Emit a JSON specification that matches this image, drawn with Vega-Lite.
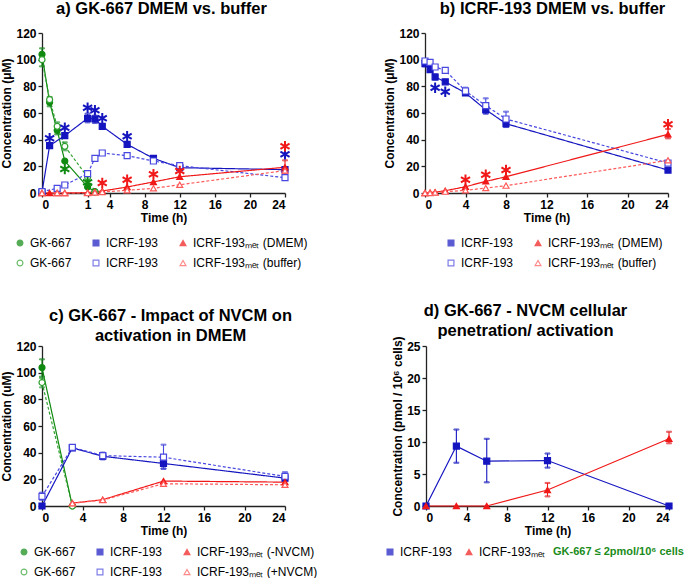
{
  "$schema": "https://vega.github.io/schema/vega-lite/v6.json",
  "background": "white",
  "padding": {"left": 0, "top": 0, "right": 0, "bottom": 0},
  "config": {
    "view": {"stroke": null},
    "font": "Liberation Sans",
    "axis": {"grid": false, "labelFont": "Liberation Sans", "labelFontWeight": "bold", "labelFontSize": 12, "labelColor": "black", "titleFont": "Liberation Sans", "titleFontWeight": "bold", "titleFontSize": 12, "titleColor": "black", "domainColor": "#222", "tickColor": "#222", "domainWidth": 1.3, "tickWidth": 1.3, "tickSize": 4, "labelPadding": 2, "titlePadding": 2},
    "legend": {"labelFont": "Liberation Sans", "labelFontSize": 12, "labelColor": "black", "orient": "none", "direction": "horizontal", "symbolSize": 34, "symbolStrokeWidth": 1.2, "columnPadding": 18, "rowPadding": 8, "padding": 0, "labelOffset": 4},
    "title": {"font": "Liberation Sans", "fontSize": 16.5, "fontWeight": "bold", "color": "black", "lineHeight": 20, "offset": 10, "anchor": "middle"}
  },
  "resolve": {"scale": {"color": "independent", "stroke": "independent", "fill": "independent", "shape": "independent", "strokeDash": "independent"}, "legend": {"color": "independent", "stroke": "independent", "fill": "independent", "shape": "independent", "strokeDash": "independent"}},
  "datasets": {
    "a": [
      {"t": 0, "v": 104, "s": "GK-667 [DMEM]"}, {"t": 0.167, "v": 68, "s": "GK-667 [DMEM]"}, {"t": 0.333, "v": 47, "s": "GK-667 [DMEM]"}, {"t": 0.5, "v": 24, "s": "GK-667 [DMEM]"}, {"t": 1, "v": 4.5, "s": "GK-667 [DMEM]"}, {"t": 2, "v": 1, "s": "GK-667 [DMEM]"},
      {"t": 0, "v": 100, "s": "GK-667 [buffer]"}, {"t": 0.167, "v": 70, "s": "GK-667 [buffer]"}, {"t": 0.333, "v": 50, "s": "GK-667 [buffer]"}, {"t": 0.5, "v": 35, "s": "GK-667 [buffer]"}, {"t": 1, "v": 12, "s": "GK-667 [buffer]"}, {"t": 2, "v": 0.5, "s": "GK-667 [buffer]"},
      {"t": 0, "v": 0.5, "s": "ICRF-193 [DMEM]"}, {"t": 0.167, "v": 35.5, "s": "ICRF-193 [DMEM]"}, {"t": 0.5, "v": 43, "s": "ICRF-193 [DMEM]"}, {"t": 1, "v": 56, "s": "ICRF-193 [DMEM]"}, {"t": 2, "v": 55.5, "s": "ICRF-193 [DMEM]"}, {"t": 3, "v": 50, "s": "ICRF-193 [DMEM]"}, {"t": 6, "v": 36.5, "s": "ICRF-193 [DMEM]"}, {"t": 9, "v": 26, "s": "ICRF-193 [DMEM]"}, {"t": 12, "v": 19, "s": "ICRF-193 [DMEM]"}, {"t": 24, "v": 17.5, "s": "ICRF-193 [DMEM]"},
      {"t": 0, "v": 1, "s": "ICRF-193 [buffer]"}, {"t": 0.333, "v": 3.5, "s": "ICRF-193 [buffer]"}, {"t": 0.5, "v": 6, "s": "ICRF-193 [buffer]"}, {"t": 1, "v": 14.5, "s": "ICRF-193 [buffer]"}, {"t": 2, "v": 26, "s": "ICRF-193 [buffer]"}, {"t": 3, "v": 30, "s": "ICRF-193 [buffer]"}, {"t": 6, "v": 28, "s": "ICRF-193 [buffer]"}, {"t": 9, "v": 24, "s": "ICRF-193 [buffer]"}, {"t": 12, "v": 20.5, "s": "ICRF-193 [buffer]"}, {"t": 24, "v": 11.5, "s": "ICRF-193 [buffer]"},
      {"t": 0, "v": 0, "s": "ICRF-193ₘₑₜ (DMEM)"}, {"t": 0.167, "v": 0, "s": "ICRF-193ₘₑₜ (DMEM)"}, {"t": 0.333, "v": 0, "s": "ICRF-193ₘₑₜ (DMEM)"}, {"t": 0.5, "v": 0, "s": "ICRF-193ₘₑₜ (DMEM)"}, {"t": 1, "v": 0.3, "s": "ICRF-193ₘₑₜ (DMEM)"}, {"t": 2, "v": 0.8, "s": "ICRF-193ₘₑₜ (DMEM)"}, {"t": 3, "v": 1.5, "s": "ICRF-193ₘₑₜ (DMEM)"}, {"t": 6, "v": 4.5, "s": "ICRF-193ₘₑₜ (DMEM)"}, {"t": 9, "v": 8.3, "s": "ICRF-193ₘₑₜ (DMEM)"}, {"t": 12, "v": 12.2, "s": "ICRF-193ₘₑₜ (DMEM)"}, {"t": 24, "v": 19.3, "s": "ICRF-193ₘₑₜ (DMEM)"},
      {"t": 0, "v": 0, "s": "ICRF-193ₘₑₜ (buffer)"}, {"t": 0.333, "v": 0, "s": "ICRF-193ₘₑₜ (buffer)"}, {"t": 0.5, "v": 0, "s": "ICRF-193ₘₑₜ (buffer)"}, {"t": 1, "v": 0, "s": "ICRF-193ₘₑₜ (buffer)"}, {"t": 2, "v": 0.3, "s": "ICRF-193ₘₑₜ (buffer)"}, {"t": 3, "v": 0.8, "s": "ICRF-193ₘₑₜ (buffer)"}, {"t": 6, "v": 2, "s": "ICRF-193ₘₑₜ (buffer)"}, {"t": 9, "v": 3.5, "s": "ICRF-193ₘₑₜ (buffer)"}, {"t": 12, "v": 6.2, "s": "ICRF-193ₘₑₜ (buffer)"}, {"t": 24, "v": 16.8, "s": "ICRF-193ₘₑₜ (buffer)"}
    ],
    "a_err": [
      {"t": 0, "lo": 95, "hi": 108.5, "s": "GK-667 [DMEM]"}, {"t": 0.167, "lo": 65, "hi": 72, "s": "GK-667 [DMEM]"}, {"t": 0.333, "lo": 44, "hi": 51, "s": "GK-667 [DMEM]"}, {"t": 0.333, "lo": 47, "hi": 53, "s": "GK-667 [buffer]"}, {"t": 0.5, "lo": 32, "hi": 38, "s": "GK-667 [buffer]"},
      {"t": 1, "lo": 53, "hi": 59.5, "s": "ICRF-193 [DMEM]"}, {"t": 2, "lo": 52.5, "hi": 58, "s": "ICRF-193 [DMEM]"}, {"t": 24, "lo": 15, "hi": 24.5, "s": "ICRF-193ₘₑₜ (DMEM)"}
    ],
    "a_star": [
      {"t": 0.167, "v": 41, "s": "ICRF-193 [DMEM]"}, {"t": 0.5, "v": 49, "s": "ICRF-193 [DMEM]"}, {"t": 1, "v": 64, "s": "ICRF-193 [DMEM]"}, {"t": 2, "v": 62, "s": "ICRF-193 [DMEM]"}, {"t": 3, "v": 56, "s": "ICRF-193 [DMEM]"}, {"t": 6, "v": 42.5, "s": "ICRF-193 [DMEM]"}, {"t": 24, "v": 29, "s": "ICRF-193 [DMEM]"},
      {"t": 0.5, "v": 18, "s": "GK-667 [DMEM]"}, {"t": 1, "v": 8, "s": "GK-667 [DMEM]"},
      {"t": 3, "v": 7.5, "s": "ICRF-193ₘₑₜ (DMEM)"}, {"t": 6, "v": 10, "s": "ICRF-193ₘₑₜ (DMEM)"}, {"t": 9, "v": 14, "s": "ICRF-193ₘₑₜ (DMEM)"}, {"t": 12, "v": 16.5, "s": "ICRF-193ₘₑₜ (DMEM)"}, {"t": 24, "v": 35, "s": "ICRF-193ₘₑₜ (DMEM)"}
    ],
    "b": [
      {"t": 0, "v": 97, "s": "ICRF-193 [DMEM]"}, {"t": 0.5, "v": 92.5, "s": "ICRF-193 [DMEM]"}, {"t": 1, "v": 87, "s": "ICRF-193 [DMEM]"}, {"t": 2, "v": 83.4, "s": "ICRF-193 [DMEM]"}, {"t": 4, "v": 75, "s": "ICRF-193 [DMEM]"}, {"t": 6, "v": 62.5, "s": "ICRF-193 [DMEM]"}, {"t": 8, "v": 52, "s": "ICRF-193 [DMEM]"}, {"t": 24, "v": 17.2, "s": "ICRF-193 [DMEM]"},
      {"t": 0, "v": 99, "s": "ICRF-193 [buffer]"}, {"t": 0.5, "v": 98, "s": "ICRF-193 [buffer]"}, {"t": 1, "v": 94.5, "s": "ICRF-193 [buffer]"}, {"t": 2, "v": 92, "s": "ICRF-193 [buffer]"}, {"t": 4, "v": 76.5, "s": "ICRF-193 [buffer]"}, {"t": 6, "v": 65.5, "s": "ICRF-193 [buffer]"}, {"t": 8, "v": 55.5, "s": "ICRF-193 [buffer]"}, {"t": 24, "v": 22.5, "s": "ICRF-193 [buffer]"},
      {"t": 0, "v": 0, "s": "ICRF-193ₘₑₜ (DMEM)"}, {"t": 0.5, "v": 0.3, "s": "ICRF-193ₘₑₜ (DMEM)"}, {"t": 1, "v": 0.6, "s": "ICRF-193ₘₑₜ (DMEM)"}, {"t": 2, "v": 1.7, "s": "ICRF-193ₘₑₜ (DMEM)"}, {"t": 4, "v": 4.7, "s": "ICRF-193ₘₑₜ (DMEM)"}, {"t": 6, "v": 8.7, "s": "ICRF-193ₘₑₜ (DMEM)"}, {"t": 8, "v": 12.2, "s": "ICRF-193ₘₑₜ (DMEM)"}, {"t": 24, "v": 44, "s": "ICRF-193ₘₑₜ (DMEM)"},
      {"t": 0, "v": 0, "s": "ICRF-193ₘₑₜ (buffer)"}, {"t": 0.5, "v": 0, "s": "ICRF-193ₘₑₜ (buffer)"}, {"t": 1, "v": 0.3, "s": "ICRF-193ₘₑₜ (buffer)"}, {"t": 2, "v": 1, "s": "ICRF-193ₘₑₜ (buffer)"}, {"t": 4, "v": 2, "s": "ICRF-193ₘₑₜ (buffer)"}, {"t": 6, "v": 3.7, "s": "ICRF-193ₘₑₜ (buffer)"}, {"t": 8, "v": 5.5, "s": "ICRF-193ₘₑₜ (buffer)"}, {"t": 24, "v": 24.5, "s": "ICRF-193ₘₑₜ (buffer)"}
    ],
    "b_err": [
      {"t": 0, "lo": 95, "hi": 99, "s": "ICRF-193 [DMEM]"}, {"t": 1, "lo": 85, "hi": 89, "s": "ICRF-193 [DMEM]"}, {"t": 6, "lo": 59.5, "hi": 64, "s": "ICRF-193 [DMEM]"}, {"t": 8, "lo": 49.5, "hi": 54, "s": "ICRF-193 [DMEM]"},
      {"t": 4, "lo": 74, "hi": 79, "s": "ICRF-193 [buffer]"}, {"t": 6, "lo": 60, "hi": 71, "s": "ICRF-193 [buffer]"}, {"t": 8, "lo": 50, "hi": 61, "s": "ICRF-193 [buffer]"},
      {"t": 24, "lo": 41, "hi": 48, "s": "ICRF-193ₘₑₜ (DMEM)"}
    ],
    "b_star": [
      {"t": 1, "v": 79, "s": "ICRF-193 [DMEM]"}, {"t": 2, "v": 76, "s": "ICRF-193 [DMEM]"},
      {"t": 4, "v": 10, "s": "ICRF-193ₘₑₜ (DMEM)"}, {"t": 6, "v": 13.7, "s": "ICRF-193ₘₑₜ (DMEM)"}, {"t": 8, "v": 17.2, "s": "ICRF-193ₘₑₜ (DMEM)"}, {"t": 24, "v": 51.5, "s": "ICRF-193ₘₑₜ (DMEM)"}
    ],
    "c": [
      {"t": 0, "v": 103.8, "s": "GK-667 [-NVCM]"}, {"t": 3, "v": 0, "s": "GK-667 [-NVCM]"},
      {"t": 0, "v": 92.6, "s": "GK-667 [+NVCM]"}, {"t": 3, "v": 0, "s": "GK-667 [+NVCM]"},
      {"t": 0, "v": 0, "s": "ICRF-193 [-NVCM]"}, {"t": 3, "v": 43.6, "s": "ICRF-193 [-NVCM]"}, {"t": 6, "v": 37.3, "s": "ICRF-193 [-NVCM]"}, {"t": 12, "v": 31.9, "s": "ICRF-193 [-NVCM]"}, {"t": 24, "v": 20.9, "s": "ICRF-193 [-NVCM]"},
      {"t": 0, "v": 7.2, "s": "ICRF-193 [+NVCM]"}, {"t": 3, "v": 44, "s": "ICRF-193 [+NVCM]"}, {"t": 6, "v": 37.8, "s": "ICRF-193 [+NVCM]"}, {"t": 12, "v": 36.6, "s": "ICRF-193 [+NVCM]"}, {"t": 24, "v": 22.2, "s": "ICRF-193 [+NVCM]"},
      {"t": 3, "v": 2.2, "s": "ICRF-193ₘₑₜ (-NVCM)"}, {"t": 6, "v": 4.7, "s": "ICRF-193ₘₑₜ (-NVCM)"}, {"t": 12, "v": 18.7, "s": "ICRF-193ₘₑₜ (-NVCM)"}, {"t": 24, "v": 17.9, "s": "ICRF-193ₘₑₜ (-NVCM)"},
      {"t": 3, "v": 2, "s": "ICRF-193ₘₑₜ (+NVCM)"}, {"t": 6, "v": 4.5, "s": "ICRF-193ₘₑₜ (+NVCM)"}, {"t": 12, "v": 16.7, "s": "ICRF-193ₘₑₜ (+NVCM)"}, {"t": 24, "v": 15.9, "s": "ICRF-193ₘₑₜ (+NVCM)"}
    ],
    "c_err": [
      {"t": 0, "lo": 97, "hi": 110, "s": "GK-667 [-NVCM]"}, {"t": 0, "lo": 89, "hi": 96, "s": "GK-667 [+NVCM]"},
      {"t": 3, "lo": 42, "hi": 45, "s": "ICRF-193 [-NVCM]"}, {"t": 6, "lo": 35, "hi": 40, "s": "ICRF-193 [-NVCM]"}, {"t": 12, "lo": 28, "hi": 36, "s": "ICRF-193 [-NVCM]"},
      {"t": 0, "lo": 4.5, "hi": 10, "s": "ICRF-193 [+NVCM]"}, {"t": 12, "lo": 28, "hi": 46, "s": "ICRF-193 [+NVCM]"}, {"t": 24, "lo": 19, "hi": 25.4, "s": "ICRF-193 [+NVCM]"}
    ],
    "d": [
      {"t": 0, "v": 0, "s": "ICRF-193"}, {"t": 3, "v": 9.36, "s": "ICRF-193"}, {"t": 6, "v": 7.0, "s": "ICRF-193"}, {"t": 12, "v": 7.1, "s": "ICRF-193"}, {"t": 24, "v": 0, "s": "ICRF-193"},
      {"t": 0, "v": 0, "s": "ICRF-193ₘₑₜ"}, {"t": 3, "v": 0, "s": "ICRF-193ₘₑₜ"}, {"t": 6, "v": 0, "s": "ICRF-193ₘₑₜ"}, {"t": 12, "v": 2.5, "s": "ICRF-193ₘₑₜ"}, {"t": 24, "v": 10.5, "s": "ICRF-193ₘₑₜ"}
    ],
    "d_err": [
      {"t": 3, "lo": 6.76, "hi": 11.95, "s": "ICRF-193"}, {"t": 6, "lo": 3.7, "hi": 10.5, "s": "ICRF-193"}, {"t": 12, "lo": 6.0, "hi": 8.2, "s": "ICRF-193"},
      {"t": 12, "lo": 1.5, "hi": 3.6, "s": "ICRF-193ₘₑₜ"}, {"t": 24, "lo": 9.8, "hi": 11.6, "s": "ICRF-193ₘₑₜ"}
    ]
  },
  "vconcat": [
    {
      "spacing": 75,
      "resolve": {"scale": {"color": "independent", "stroke": "independent", "fill": "independent", "shape": "independent", "strokeDash": "independent"}, "legend": {"color": "independent", "stroke": "independent", "fill": "independent", "shape": "independent", "strokeDash": "independent"}},
      "hconcat": [
        {
          "width": 243, "height": 160,
          "title": {"text": "a)  GK-667 DMEM vs. buffer", "dx": -2},
          "encoding": {
            "x": {"field": "t", "type": "quantitative", "scale": {"domain": [0, 1, 4, 24], "range": [0, 45.6, 67.6, 243]}, "axis": {"title": "Time (h)", "values": [0, 1, 4, 8, 12, 16, 20, 24]}},
            "y": {"field": "v", "type": "quantitative", "scale": {"domain": [0, 120], "nice": false}, "axis": {"title": "Concentration (μM)", "values": [0, 20, 40, 60, 80, 100, 120]}}
          },
          "layer": [
            {"data": {"name": "a"}, "mark": {"type": "line", "strokeWidth": 1.2},
             "encoding": {
               "stroke": {"field": "s", "type": "nominal", "scale": {"domain": ["GK-667 [DMEM]", "ICRF-193 [DMEM]", "ICRF-193ₘₑₜ (DMEM)", "GK-667 [buffer]", "ICRF-193 [buffer]", "ICRF-193ₘₑₜ (buffer)"], "range": ["#108a10", "#1515c0", "#f01818", "#30a030", "#4848e0", "#ff5a5a"]}},
               "strokeDash": {"field": "s", "type": "nominal", "scale": {"domain": ["ICRF-193ₘₑₜ (buffer)", "ICRF-193 [buffer]", "GK-667 [buffer]", "ICRF-193ₘₑₜ (DMEM)", "ICRF-193 [DMEM]", "GK-667 [DMEM]"], "range": [[3, 2], [3, 2], [3, 2], [1, 0], [1, 0], [1, 0]]}, "legend": null}
             }},
            {"data": {"name": "a_err"}, "mark": {"type": "errorbar", "ticks": true, "size": 5, "thickness": 1.1},
             "encoding": {
               "y": {"field": "lo", "type": "quantitative", "title": "Concentration (μM)"},
               "y2": {"field": "hi"},
               "stroke": {"field": "s", "type": "nominal"}
             }},
            {"data": {"name": "a"}, "mark": {"type": "point", "filled": true, "size": 36, "strokeWidth": 1.2, "opacity": 1},
             "encoding": {
               "stroke": {"field": "s", "type": "nominal", "legend": {"title": null, "columns": 3, "legendX": -28, "legendY": 204, "labelExpr": "split(datum.label, ' [')[0]"}},
               "fill": {"field": "s", "type": "nominal", "scale": {"domain": ["GK-667 [DMEM]", "ICRF-193 [DMEM]", "ICRF-193ₘₑₜ (DMEM)", "GK-667 [buffer]", "ICRF-193 [buffer]", "ICRF-193ₘₑₜ (buffer)"], "range": ["#108a10", "#1515c0", "#f01818", "white", "white", "white"]}, "legend": {"title": null, "columns": 3, "legendX": -28, "legendY": 204, "labelExpr": "split(datum.label, ' [')[0]"}},
               "shape": {"field": "s", "type": "nominal", "scale": {"domain": ["GK-667 [DMEM]", "ICRF-193 [DMEM]", "ICRF-193ₘₑₜ (DMEM)", "GK-667 [buffer]", "ICRF-193 [buffer]", "ICRF-193ₘₑₜ (buffer)"], "range": ["circle", "square", "triangle-up", "circle", "square", "triangle-up"]}, "legend": {"title": null, "columns": 3, "legendX": -28, "legendY": 204, "labelExpr": "split(datum.label, ' [')[0]"}}
             }},
            {"data": {"name": "a_star"}, "mark": {"type": "point", "filled": false, "shape": "M0,-1L0,1M-0.87,-0.5L0.87,0.5M-0.87,0.5L0.87,-0.5", "size": 110, "strokeWidth": 2, "opacity": 1},
             "encoding": {
               "stroke": {"field": "s", "type": "nominal"}
             }}
          ]
        },
        {
          "width": 243, "height": 160,
          "title": {"text": "b)  ICRF-193 DMEM vs. buffer", "dx": 6},
          "encoding": {
            "x": {"field": "t", "type": "quantitative", "scale": {"domain": [0, 24], "nice": false}, "axis": {"title": "Time (h)", "values": [0, 4, 8, 12, 16, 20, 24]}},
            "y": {"field": "v", "type": "quantitative", "scale": {"domain": [0, 120], "nice": false}, "axis": {"title": "Concentration (μM)", "values": [0, 20, 40, 60, 80, 100, 120]}}
          },
          "layer": [
            {"data": {"name": "b"}, "mark": {"type": "line", "strokeWidth": 1.2},
             "encoding": {
               "stroke": {"field": "s", "type": "nominal", "scale": {"domain": ["ICRF-193 [DMEM]", "ICRF-193ₘₑₜ (DMEM)", "ICRF-193 [buffer]", "ICRF-193ₘₑₜ (buffer)"], "range": ["#1515c0", "#f01818", "#4848e0", "#ff5a5a"]}},
               "strokeDash": {"field": "s", "type": "nominal", "scale": {"domain": ["ICRF-193ₘₑₜ (buffer)", "ICRF-193 [buffer]", "ICRF-193ₘₑₜ (DMEM)", "ICRF-193 [DMEM]"], "range": [[3, 2], [3, 2], [1, 0], [1, 0]]}, "legend": null}
             }},
            {"data": {"name": "b_err"}, "mark": {"type": "errorbar", "ticks": true, "size": 5, "thickness": 1.1},
             "encoding": {
               "y": {"field": "lo", "type": "quantitative", "title": "Concentration (μM)"},
               "y2": {"field": "hi"},
               "stroke": {"field": "s", "type": "nominal"}
             }},
            {"data": {"name": "b"}, "mark": {"type": "point", "filled": true, "size": 36, "strokeWidth": 1.2, "opacity": 1},
             "encoding": {
               "stroke": {"field": "s", "type": "nominal", "legend": {"title": null, "columns": 2, "legendX": 20, "legendY": 204, "labelExpr": "split(datum.label, ' [')[0]"}},
               "fill": {"field": "s", "type": "nominal", "scale": {"domain": ["ICRF-193 [DMEM]", "ICRF-193ₘₑₜ (DMEM)", "ICRF-193 [buffer]", "ICRF-193ₘₑₜ (buffer)"], "range": ["#1515c0", "#f01818", "white", "white"]}, "legend": {"title": null, "columns": 2, "legendX": 20, "legendY": 204, "labelExpr": "split(datum.label, ' [')[0]"}},
               "shape": {"field": "s", "type": "nominal", "scale": {"domain": ["ICRF-193 [DMEM]", "ICRF-193ₘₑₜ (DMEM)", "ICRF-193 [buffer]", "ICRF-193ₘₑₜ (buffer)"], "range": ["square", "triangle-up", "square", "triangle-up"]}, "legend": {"title": null, "columns": 2, "legendX": 20, "legendY": 204, "labelExpr": "split(datum.label, ' [')[0]"}}
             }},
            {"data": {"name": "b_star"}, "mark": {"type": "point", "filled": false, "shape": "M0,-1L0,1M-0.87,-0.5L0.87,0.5M-0.87,0.5L0.87,-0.5", "size": 110, "strokeWidth": 2, "opacity": 1},
             "encoding": {
               "stroke": {"field": "s", "type": "nominal"}
             }}
          ]
        }
      ]
    },
    {
      "spacing": 66,
      "resolve": {"scale": {"color": "independent", "stroke": "independent", "fill": "independent", "shape": "independent", "strokeDash": "independent"}, "legend": {"color": "independent", "stroke": "independent", "fill": "independent", "shape": "independent", "strokeDash": "independent"}},
      "hconcat": [
        {
          "width": 243, "height": 160,
          "title": {"text": ["c) GK-667 - Impact of NVCM on", "activation in DMEM"], "offset": -4, "dx": 7},
          "encoding": {
            "x": {"field": "t", "type": "quantitative", "scale": {"domain": [0, 24], "nice": false}, "axis": {"title": "Time (h)", "values": [0, 4, 8, 12, 16, 20, 24]}},
            "y": {"field": "v", "type": "quantitative", "scale": {"domain": [0, 120], "nice": false}, "axis": {"title": "Concentration (uM)", "values": [0, 20, 40, 60, 80, 100, 120]}}
          },
          "layer": [
            {"data": {"name": "c"}, "mark": {"type": "line", "strokeWidth": 1.2},
             "encoding": {
               "stroke": {"field": "s", "type": "nominal", "scale": {"domain": ["GK-667 [-NVCM]", "ICRF-193 [-NVCM]", "ICRF-193ₘₑₜ (-NVCM)", "GK-667 [+NVCM]", "ICRF-193 [+NVCM]", "ICRF-193ₘₑₜ (+NVCM)"], "range": ["#108a10", "#1515c0", "#f01818", "#30a030", "#4848e0", "#ff5a5a"]}},
               "strokeDash": {"field": "s", "type": "nominal", "scale": {"domain": ["ICRF-193ₘₑₜ (+NVCM)", "ICRF-193 [+NVCM]", "GK-667 [+NVCM]", "ICRF-193ₘₑₜ (-NVCM)", "ICRF-193 [-NVCM]", "GK-667 [-NVCM]"], "range": [[3, 2], [3, 2], [3, 2], [1, 0], [1, 0], [1, 0]]}, "legend": null}
             }},
            {"data": {"name": "c_err"}, "mark": {"type": "errorbar", "ticks": true, "size": 5, "thickness": 1.1},
             "encoding": {
               "y": {"field": "lo", "type": "quantitative", "title": "Concentration (uM)"},
               "y2": {"field": "hi"},
               "stroke": {"field": "s", "type": "nominal"}
             }},
            {"data": {"name": "c"}, "mark": {"type": "point", "filled": true, "size": 36, "strokeWidth": 1.2, "opacity": 1},
             "encoding": {
               "stroke": {"field": "s", "type": "nominal", "legend": {"title": null, "columns": 3, "legendX": -24, "legendY": 200, "labelExpr": "split(datum.label, ' [')[0]"}},
               "fill": {"field": "s", "type": "nominal", "scale": {"domain": ["GK-667 [-NVCM]", "ICRF-193 [-NVCM]", "ICRF-193ₘₑₜ (-NVCM)", "GK-667 [+NVCM]", "ICRF-193 [+NVCM]", "ICRF-193ₘₑₜ (+NVCM)"], "range": ["#108a10", "#1515c0", "#f01818", "white", "white", "white"]}, "legend": {"title": null, "columns": 3, "legendX": -24, "legendY": 200, "labelExpr": "split(datum.label, ' [')[0]"}},
               "shape": {"field": "s", "type": "nominal", "scale": {"domain": ["GK-667 [-NVCM]", "ICRF-193 [-NVCM]", "ICRF-193ₘₑₜ (-NVCM)", "GK-667 [+NVCM]", "ICRF-193 [+NVCM]", "ICRF-193ₘₑₜ (+NVCM)"], "range": ["circle", "square", "triangle-up", "circle", "square", "triangle-up"]}, "legend": {"title": null, "columns": 3, "legendX": -24, "legendY": 200, "labelExpr": "split(datum.label, ' [')[0]"}}
             }}
          ]
        },
        {
          "width": 243, "height": 160,
          "title": {"text": ["d)   GK-667 - NVCM cellular", "penetration/ activation"], "offset": -4, "dx": -22},
          "encoding": {
            "x": {"field": "t", "type": "quantitative", "scale": {"domain": [0, 24], "nice": false}, "axis": {"title": "Time (h)", "values": [0, 4, 8, 12, 16, 20, 24]}},
            "y": {"field": "v", "type": "quantitative", "scale": {"domain": [0, 25], "nice": false}, "axis": {"title": "Concentration (pmol / 10⁶ cells)", "values": [0, 5, 10, 15, 20, 25]}}
          },
          "layer": [
            {"data": {"name": "d"}, "mark": {"type": "line", "strokeWidth": 1.2},
             "encoding": {
               "stroke": {"field": "s", "type": "nominal", "scale": {"domain": ["ICRF-193", "ICRF-193ₘₑₜ"], "range": ["#1515c0", "#f01818"]}}
             }},
            {"data": {"name": "d_err"}, "mark": {"type": "errorbar", "ticks": true, "size": 5, "thickness": 1.1},
             "encoding": {
               "y": {"field": "lo", "type": "quantitative", "title": "Concentration (pmol / 10⁶ cells)"},
               "y2": {"field": "hi"},
               "stroke": {"field": "s", "type": "nominal"}
             }},
            {"data": {"name": "d"}, "mark": {"type": "point", "filled": true, "size": 36, "strokeWidth": 1.2, "opacity": 1},
             "encoding": {
               "stroke": {"field": "s", "type": "nominal", "legend": {"title": "GK-667 ≤ 2pmol/10⁶ cells", "titleOrient": "right", "titleColor": "#1a8c1a", "titleFontWeight": "bold", "titleFontSize": 11, "titleFont": "Liberation Sans", "titlePadding": 8, "columns": 2, "columnPadding": 10, "legendX": -42, "legendY": 200}},
               "fill": {"field": "s", "type": "nominal", "scale": {"domain": ["ICRF-193", "ICRF-193ₘₑₜ"], "range": ["#1515c0", "#f01818"]}, "legend": {"title": "GK-667 ≤ 2pmol/10⁶ cells", "titleOrient": "right", "titleColor": "#1a8c1a", "titleFontWeight": "bold", "titleFontSize": 11, "titleFont": "Liberation Sans", "titlePadding": 8, "columns": 2, "columnPadding": 10, "legendX": -42, "legendY": 200}},
               "shape": {"field": "s", "type": "nominal", "scale": {"domain": ["ICRF-193", "ICRF-193ₘₑₜ"], "range": ["square", "triangle-up"]}, "legend": {"title": "GK-667 ≤ 2pmol/10⁶ cells", "titleOrient": "right", "titleColor": "#1a8c1a", "titleFontWeight": "bold", "titleFontSize": 11, "titleFont": "Liberation Sans", "titlePadding": 8, "columns": 2, "columnPadding": 10, "legendX": -42, "legendY": 200}}
             }}
          ]
        }
      ]
    }
  ],
  "spacing": 34
}
